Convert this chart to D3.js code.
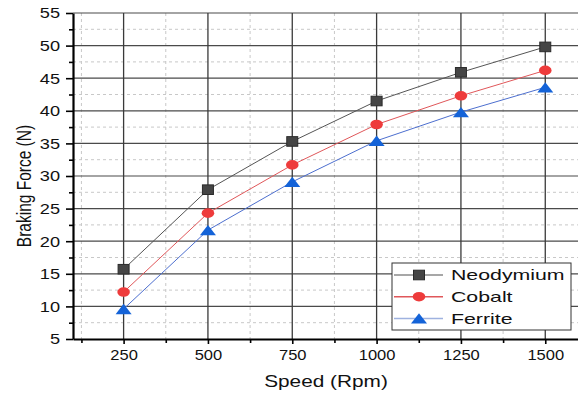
<!DOCTYPE html>
<html>
<head>
<meta charset="utf-8">
<script src="https://cdn.jsdelivr.net/npm/d3@7"></script>
<style>
body { margin: 0; background: #fff; }
text { font-family: "Liberation Sans", Arial, sans-serif; fill: #111; }
</style>
</head>
<body>
<script>
var WIDTH = 578;
var HEIGHT = 394;
var SX = 1.3; // picture is stretched sideways
var LEFT = 73, RIGHT = 579, TOP = 13, BOTTOM = 339;

var speeds = [250, 500, 750, 1000, 1250, 1500];
var neodymium = [15.7, 27.9, 35.3, 41.5, 45.9, 49.8];
var cobalt = [12.2, 24.3, 31.7, 37.9, 42.3, 46.2];
var ferrite = [9.6, 21.7, 29.1, 35.4, 39.8, 43.6];
var seriesNames = ['Neodymium', 'Cobalt', 'Ferrite'];
var xTicks = [250, 500, 750, 1000, 1250, 1500];
var xMinor = [125, 375, 625, 875, 1125, 1375];
var yTicks = [5, 10, 15, 20, 25, 30, 35, 40, 45, 50, 55];
var yMinor = [7.5, 12.5, 17.5, 22.5, 27.5, 32.5, 37.5, 42.5, 47.5, 52.5];

var styles = {
    Neodymium: { line: '#555555', legendLine: '#8a8a8a', fill: '#454545', stroke: '#2a2a2a', shape: 'square' },
    Cobalt: { line: '#e0575a', legendLine: '#e0575a', fill: '#ee3b3b', stroke: '#ee3b3b', shape: 'circle' },
    Ferrite: { line: '#4d6fcf', legendLine: '#9fb2e0', fill: '#1463d8', stroke: '#1463d8', shape: 'triangle' }
};
var values = { Neodymium: neodymium, Cobalt: cobalt, Ferrite: ferrite };

var x = d3.scaleLinear().domain([100, 1600]).range([LEFT, RIGHT]);
var y = d3.scaleLinear().domain([5, 55]).range([BOTTOM, TOP]);

var svg = d3.select('body').append('svg')
    .attr('width', WIDTH)
    .attr('height', HEIGHT);

// minor grid
svg.append('g').selectAll('line').data(yMinor).enter().append('line')
    .attr('x1', LEFT).attr('x2', WIDTH)
    .attr('y1', function (d) { return y(d); }).attr('y2', function (d) { return y(d); })
    .style('stroke', '#c8c8c8').style('stroke-dasharray', '3,3');
svg.append('g').selectAll('line').data(xMinor).enter().append('line')
    .attr('x1', function (d) { return x(d); }).attr('x2', function (d) { return x(d); })
    .attr('y1', TOP).attr('y2', BOTTOM)
    .style('stroke', '#c8c8c8').style('stroke-dasharray', '3,3');

// major grid
svg.append('g').selectAll('line').data(yTicks.slice(1)).enter().append('line')
    .attr('x1', LEFT).attr('x2', WIDTH)
    .attr('y1', function (d) { return y(d); }).attr('y2', function (d) { return y(d); })
    .style('stroke', '#4a4a4a').style('stroke-width', 1.2);
svg.append('g').selectAll('line').data(xTicks).enter().append('line')
    .attr('x1', function (d) { return x(d); }).attr('x2', function (d) { return x(d); })
    .attr('y1', TOP).attr('y2', BOTTOM)
    .style('stroke', '#3a3a3a').style('stroke-width', 1.3);

// axes
var yAxis = svg.append('g')
    .attr('transform', 'translate(' + LEFT + ',0)')
    .call(d3.axisLeft(y).tickValues(yTicks).tickSize(7).tickSizeOuter(0).tickPadding(0));
svg.append('g')
    .attr('transform', 'translate(' + LEFT + ',0)')
    .call(d3.axisLeft(y).tickValues(yMinor).tickSize(4).tickSizeOuter(0).tickFormat(''))
    .select('.domain').remove();
var xAxis = svg.append('g')
    .attr('transform', 'translate(0,' + BOTTOM + ')')
    .call(d3.axisBottom(x).tickValues(xTicks).tickSize(5).tickSizeOuter(0).tickPadding(0)
        .tickFormat(d3.format('d')));
svg.append('g')
    .attr('transform', 'translate(0,' + BOTTOM + ')')
    .call(d3.axisBottom(x).tickValues(xMinor).tickSize(4).tickSizeOuter(0).tickFormat(''))
    .select('.domain').remove();

svg.selectAll('.tick line').style('stroke', '#000').style('stroke-width', 1.6);
yAxis.select('.domain').style('stroke', '#000').style('stroke-width', 2.2);
xAxis.select('.domain').style('stroke', '#000').style('stroke-width', 2.2);

yAxis.selectAll('.tick text')
    .attr('x', -10).attr('dy', null).attr('y', 4.8)
    .attr('transform', 'scale(' + SX + ',1)')
    .style('font-size', '14px').style('fill', '#111');
xAxis.selectAll('.tick text')
    .attr('y', 21).attr('dy', null)
    .attr('transform', 'scale(1.18,1)')
    .style('font-size', '14px').style('fill', '#111');

// axis titles
svg.append('text')
    .attr('transform', 'translate(326,387) scale(' + SX + ',1)')
    .attr('text-anchor', 'middle')
    .style('font-size', '16px')
    .text('Speed (Rpm)');
svg.append('text')
    .attr('transform', 'translate(31,186) scale(' + SX + ',1) rotate(-90)')
    .attr('text-anchor', 'middle')
    .style('font-size', '15.5px')
    .text('Braking Force (N)');

// markers
function drawMarker(g, shape, st, cx, cy) {
    if (shape == 'square') {
        g.append('rect')
            .attr('x', cx - 5.5).attr('y', cy - 4.8)
            .attr('width', 11).attr('height', 9.6)
            .style('fill', st.fill).style('stroke', st.stroke).style('stroke-width', 1);
    } else if (shape == 'circle') {
        g.append('ellipse')
            .attr('cx', cx).attr('cy', cy)
            .attr('rx', 6.3).attr('ry', 4.8)
            .style('fill', st.fill);
    } else {
        g.append('path')
            .attr('d', 'M' + (cx - 8) + ',' + (cy + 5.2) + 'L' + (cx + 8) + ',' + (cy + 5.2) + 'L' + cx + ',' + (cy - 5.2) + 'Z')
            .style('fill', st.fill);
    }
}

var line = d3.line()
    .x(function (d) { return x(d[0]); })
    .y(function (d) { return y(d[1]); });

seriesNames.slice().reverse().forEach(function (name) {
    var st = styles[name];
    var pts = speeds.map(function (s, i) { return [s, values[name][i]]; });
    var g = svg.append('g');
    g.append('path')
        .attr('d', line(pts))
        .style('fill', 'none').style('stroke', st.line).style('stroke-width', 1);
    pts.forEach(function (p) { drawMarker(g, st.shape, st, x(p[0]), y(p[1])); });
});

// legend
var legend = svg.append('g');
legend.append('rect')
    .attr('x', 392).attr('y', 263)
    .attr('width', 179).attr('height', 67)
    .style('fill', '#fff').style('stroke', '#333').style('stroke-width', 1);
seriesNames.forEach(function (name, i) {
    var st = styles[name];
    var ly = 275 + i * 21.7;
    legend.append('line')
        .attr('x1', 394).attr('x2', 443)
        .attr('y1', ly).attr('y2', ly)
        .style('stroke', st.legendLine).style('stroke-width', 1.5);
    drawMarker(legend, st.shape, st, 419, ly);
    legend.append('text')
        .attr('transform', 'translate(451,' + (ly + 5.3) + ') scale(1.42,1)')
        .style('font-size', '15px')
        .text(name);
});
</script>
</body>
</html>
